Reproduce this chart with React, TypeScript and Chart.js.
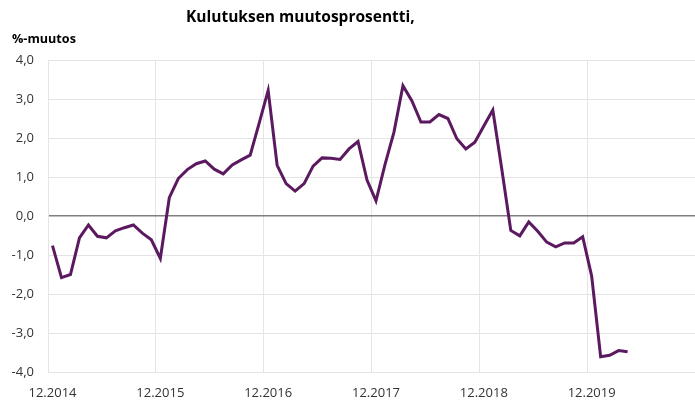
import React, { useEffect, useRef } from "react";
import { Chart, registerables } from "chart.js";

Chart.register(...registerables);

const titleText = "Kulutuksen muutosprosentti,";
const unitText = "%-muutos";

// Monthly categories from 12.2014 to 11.2020
const startMonth = 12;
const startYear = 2014;
const monthCount = 72;
const categories: string[] = [];
for (let i = 0; i < monthCount; i++) {
  const m = ((startMonth - 1 + i) % 12) + 1;
  const y = startYear + Math.floor((startMonth - 1 + i) / 12);
  categories.push(`${m}.${y}`);
}

const yTicks = [-4, -3, -2, -1, 0, 1, 2, 3, 4];

const changePct: number[] = [
  -0.76, -1.58, -1.5, -0.56, -0.23, -0.52, -0.56, -0.38, -0.3, -0.23, -0.44, -0.61,
  -1.09, 0.47, 0.96, 1.19, 1.34, 1.41, 1.2, 1.08, 1.31, 1.44, 1.56, 2.38,
  3.22, 1.3, 0.83, 0.64, 0.83, 1.28, 1.49, 1.48, 1.45, 1.72, 1.91, 0.92,
  0.39, 1.32, 2.15, 3.34, 2.95, 2.41, 2.41, 2.6, 2.5, 1.98, 1.72, 1.89,
  2.31, 2.72, 1.2, -0.37, -0.51, -0.15, -0.39, -0.67, -0.79, -0.69, -0.69, -0.53,
  -1.54, -3.61, -3.57, -3.45, -3.48,
];

const FONT = '"Open Sans", "Liberation Sans", sans-serif';

const textPlugin = {
  id: "headerTexts",
  afterDraw(chart: any) {
    const ctx = chart.ctx;
    ctx.save();
    ctx.fillStyle = "#000000";
    ctx.textAlign = "left";
    ctx.textBaseline = "alphabetic";
    ctx.font = `bold 15px ${FONT}`;
    const w = ctx.measureText(titleText).width;
    const size = (15 * 229) / w;
    ctx.font = `bold ${size}px ${FONT}`;
    ctx.fillText(titleText, 186, 22);
    ctx.font = `bold 13px ${FONT}`;
    const w2 = ctx.measureText(unitText).width;
    const size2 = (13 * 64) / w2;
    ctx.font = `bold ${size2}px ${FONT}`;
    ctx.fillText(unitText, 12, 43);
    ctx.restore();
  },
};

export default function App() {
  const ref = useRef<HTMLCanvasElement | null>(null);

  useEffect(() => {
    if (!ref.current) return;
    const chart = new Chart(ref.current, {
      type: "line",
      data: {
        labels: categories,
        datasets: [
          {
            data: changePct,
            borderColor: "#5b195f",
            borderWidth: 3,
            pointRadius: 0,
            tension: 0,
            fill: false,
          },
        ],
      },
      options: {
        animation: false,
        responsive: false,
        maintainAspectRatio: false,
        layout: { padding: { top: 60, left: 0, right: -4, bottom: 0 } },
        plugins: {
          legend: { display: false },
          tooltip: { enabled: false },
          title: { display: false },
        },
        scales: {
          x: {
            type: "category",
            offset: true,
            afterFit: (scale: any) => {
              scale.height = 31;
              scale.paddingRight = 0;
            },
            grid: {
              offset: true,
              drawTicks: false,
              color: (c: any) => (c.index % 12 === 0 ? "#e4e4e4" : "rgba(0,0,0,0)"),
              lineWidth: 1,
            },
            border: { display: true, color: "#e4e4e4" },
            ticks: {
              autoSkip: false,
              maxRotation: 0,
              minRotation: 0,
              padding: 13,
              color: "#333333",
              font: { family: FONT, size: 13 },
              callback: (_v: any, i: number) => (i % 12 === 0 ? categories[i] : ""),
            },
          },
          y: {
            min: -4,
            max: 4,
            afterFit: (scale: any) => {
              scale.width = 48;
            },
            afterBuildTicks: (scale: any) => {
              scale.ticks = yTicks.map((v) => ({ value: v }));
            },
            grid: {
              drawTicks: false,
              color: (c: any) => (c.tick && c.tick.value === 0 ? "#7f7f7f" : "#e4e4e4"),
              lineWidth: (c: any) => (c.tick && c.tick.value === 0 ? 1.5 : 1),
            },
            border: { display: true, color: "#e4e4e4" },
            ticks: {
              padding: 14,
              color: "#333333",
              font: { family: FONT, size: 13 },
              callback: (v: any) => Number(v).toFixed(1).replace(".", ","),
            },
          },
        },
      },
      plugins: [textPlugin],
    });
    return () => chart.destroy();
  }, []);

  return (
    <div style={{ position: "absolute", left: 0, top: 0, width: 695, height: 403, background: "#ffffff" }}>
      <canvas ref={ref} width={695} height={403} style={{ display: "block" }} />
    </div>
  );
}
